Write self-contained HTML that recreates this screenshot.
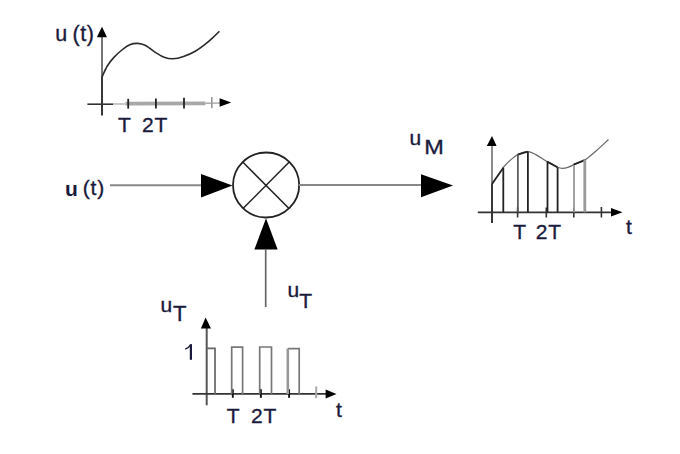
<!DOCTYPE html>
<html><head><meta charset="utf-8">
<style>
html,body{margin:0;padding:0;background:#fff;width:680px;height:454px;overflow:hidden}
svg{position:absolute;left:0;top:0}
text{font-family:"Liberation Sans",sans-serif;fill:#1a1a3c;stroke:#1a1a3c;stroke-width:0.35px}
</style></head><body>
<svg width="680" height="454" viewBox="0 0 680 454">
<!-- top graph -->
<g fill="none">
  <line x1="102" y1="37" x2="102" y2="77" stroke="#666" stroke-width="1.8"/>
  <line x1="102" y1="77" x2="102" y2="115.5" stroke="#222" stroke-width="1.8"/>
  <line x1="87.4" y1="104.2" x2="113" y2="104.2" stroke="#333" stroke-width="1.6"/>
  <line x1="113" y1="104" x2="125.5" y2="104" stroke="#bbb" stroke-width="1.6"/>
  <line x1="125.5" y1="103.7" x2="205.5" y2="103.4" stroke="#a8a8a8" stroke-width="3.8"/>
  <line x1="205.5" y1="103.2" x2="221" y2="103" stroke="#aaa" stroke-width="1.5"/>
  <line x1="128.2" y1="98.8" x2="128.2" y2="108.6" stroke="#222" stroke-width="1.8"/>
  <line x1="155.9" y1="98.5" x2="155.9" y2="108.6" stroke="#222" stroke-width="1.8"/>
  <line x1="184" y1="97.8" x2="184" y2="108.6" stroke="#222" stroke-width="1.8"/>
  <line x1="211.8" y1="97" x2="211.8" y2="108.2" stroke="#999" stroke-width="1.6"/>
  <path d="M102.0,77.0 C102.9,75.2 105.3,69.3 107.3,66.0 C109.3,62.7 111.4,60.1 113.9,57.4 C116.4,54.6 119.9,51.6 122.5,49.5 C125.1,47.4 127.2,45.8 129.7,44.8 C132.2,43.8 135.0,43.3 137.7,43.4 C140.3,43.5 142.7,44.0 145.6,45.5 C148.5,47.0 151.8,50.1 154.9,52.1 C158.0,54.1 161.1,56.1 164.1,57.2 C167.1,58.3 169.7,58.9 172.9,58.8 C176.1,58.7 179.8,57.8 183.5,56.5 C187.2,55.2 191.8,53.2 195.3,51.2 C198.8,49.2 201.8,47.0 204.7,44.7 C207.6,42.4 210.4,39.9 212.9,37.6 C215.4,35.4 218.3,32.3 219.4,31.2" stroke="#2a2a2a" stroke-width="1.6"/>
</g>
<polygon points="102,26.8 96.8,37.2 107,37.2" fill="#000"/>
<polygon points="231.2,102.5 219.6,98.3 219.6,106.7" fill="#000"/>

<!-- middle -->
<line x1="110" y1="185.3" x2="202" y2="185.3" stroke="#888" stroke-width="2"/>
<polygon points="201,174.1 232.5,185.6 201,197.5" fill="#000"/>
<ellipse cx="266.1" cy="185" rx="33.1" ry="32.5" stroke="#222" stroke-width="1.8" fill="none"/>
<line x1="243" y1="162.3" x2="289" y2="208.5" stroke="#222" stroke-width="1.5"/>
<line x1="289" y1="162.3" x2="243" y2="208.5" stroke="#222" stroke-width="1.5"/>
<line x1="299" y1="185" x2="422" y2="185" stroke="#888" stroke-width="2"/>
<polygon points="421,174.3 453,185.6 421,197.3" fill="#000"/>
<polygon points="266,218.3 254.4,249.4 277.6,249.4" fill="#000"/>
<line x1="265.7" y1="249" x2="265.7" y2="307" stroke="#666" stroke-width="1.7"/>

<!-- right graph -->
<g fill="none">
  <line x1="492" y1="145" x2="492" y2="184" stroke="#777" stroke-width="1.7"/>
  <line x1="492" y1="184" x2="492" y2="223" stroke="#222" stroke-width="1.8"/>
  <line x1="477.8" y1="212.3" x2="612" y2="212.3" stroke="#333" stroke-width="1.8"/>
  <line x1="517.6" y1="207.5" x2="517.6" y2="217.5" stroke="#333" stroke-width="1.6"/>
  <line x1="546.3" y1="207.5" x2="546.3" y2="217.5" stroke="#333" stroke-width="1.6"/>
  <line x1="573.8" y1="207.5" x2="573.8" y2="217.5" stroke="#333" stroke-width="1.6"/>
  <line x1="601.4" y1="207" x2="601.4" y2="217.5" stroke="#333" stroke-width="1.6"/>
  <path d="M503.5,167.0 C504.6,165.9 507.6,162.6 510.0,160.5 C512.4,158.4 514.8,156.1 517.7,154.6 C520.7,153.1 524.7,151.6 527.7,151.6 C530.7,151.6 532.5,152.9 535.8,154.6 C539.0,156.3 543.6,159.5 547.2,161.6 C550.8,163.7 554.5,166.0 557.5,167.3 C560.5,168.6 566,169.2 573.7,164.6 C577.4,162.8 581.0,162.2 584.7,160.1 C588.4,157.8 592.0,154.4 596.0,151.0 C600.0,147.6 606.4,141.4 608.5,139.5" stroke="#6a6a6a" stroke-width="1.25"/>
  <g stroke="#222" stroke-width="1.8">
    <line x1="492" y1="184" x2="503.5" y2="167.5"/>
    <line x1="517.7" y1="154.6" x2="527.7" y2="151.6"/>
    <line x1="547.2" y1="161.6" x2="557.5" y2="167.3"/>
    <line x1="573.7" y1="164.6" x2="584.7" y2="160.1"/>
    <line x1="503.3" y1="167.5" x2="503.3" y2="212.3"/>
    <line x1="527.9" y1="151.6" x2="527.9" y2="212.3"/>
    <line x1="547.5" y1="161.8" x2="547.5" y2="212.3"/>
    <line x1="557.6" y1="167.4" x2="557.6" y2="212.3"/>
  </g>
  <line x1="517.9" y1="154.6" x2="517.9" y2="212.3" stroke="#555" stroke-width="1.7"/>
  <line x1="574" y1="165" x2="574" y2="212.3" stroke="#999" stroke-width="1.8"/>
  <line x1="584.8" y1="160" x2="584.8" y2="212.3" stroke="#999" stroke-width="2.8"/>
</g>
<polygon points="492,136 486.8,146 496.6,146" fill="#000"/>
<polygon points="622.5,212.3 611,208 611,216.5" fill="#000"/>

<!-- bottom graph -->
<g fill="none" stroke-width="1.7">
  <line x1="206.7" y1="328" x2="206.7" y2="405.3" stroke="#555" stroke-width="2"/>
  <line x1="192.4" y1="393.9" x2="326" y2="393.9" stroke="#333" stroke-width="1.8"/>
  <line x1="232.8" y1="389.2" x2="232.8" y2="397.8" stroke="#111" stroke-width="1.9"/>
  <line x1="260.9" y1="389.2" x2="260.9" y2="397.8" stroke="#111" stroke-width="1.9"/>
  <line x1="289.1" y1="389.2" x2="289.1" y2="397.8" stroke="#111" stroke-width="1.9"/>
  <line x1="316.2" y1="386.5" x2="316.2" y2="398.2" stroke="#aaa" stroke-width="2"/>
  <polyline points="206.7,348.4 215,348.4 215,394" stroke="#666"/>
  <polyline points="231.7,394 231.7,347.2 242.6,347.2 242.6,394" stroke="#777"/>
  <polyline points="259.7,394 259.7,347 271.5,347 271.5,394" stroke="#777"/>
  <polyline points="299.2,394 299.2,348.6 287.8,348.6" stroke="#777"/><line x1="287.8" y1="348.6" x2="287.8" y2="394" stroke="#999" stroke-width="2.6"/>
</g>
<polygon points="205.6,317.6 200.9,328.6 211,328.6" fill="#000"/>
<polygon points="336.5,394 325.6,389.5 325.6,398.5" fill="#000"/>

<!-- text -->
<text x="55.2" y="40.6" font-size="21.5">u</text>
<text x="72.5" y="40.6" font-size="21.5" letter-spacing="0.6">(t)</text>
<text x="118.1" y="132.4" font-size="21">T</text>
<text x="141.9" y="132.4" font-size="21" letter-spacing="1">2T</text>
<text x="65.1" y="195.5" font-size="21" font-weight="bold" style="stroke-width:0">u</text>
<text x="82.7" y="195.2" font-size="21" letter-spacing="0.85">(t)</text>
<text x="287.4" y="296.5" font-size="21">u</text>
<text x="299.3" y="308" font-size="21">T</text>
<text x="409.5" y="145.3" font-size="21">u</text>
<text x="0" y="0" font-size="21" transform="translate(424.3,153.8) scale(1.12,1)">M</text>
<text x="513.2" y="239.2" font-size="21">T</text>
<text x="535.7" y="239.2" font-size="21" letter-spacing="1">2T</text>
<text x="625.9" y="233.6" font-size="21">t</text>
<text x="160.4" y="312.4" font-size="21">u</text>
<text x="172.9" y="321.3" font-size="22">T</text>
<path d="M190.9,344.2 V359.8" stroke="#1a1a3c" stroke-width="2.2" fill="none"/><path d="M185.2,349.2 Q188.8,347.8 190.9,344.6" stroke="#1a1a3c" stroke-width="1.4" fill="none"/>
<text x="226.8" y="422.7" font-size="21">T</text>
<text x="250.9" y="422.7" font-size="21" letter-spacing="1">2T</text>
<text x="335.9" y="416.9" font-size="21">t</text>
</svg>
</body></html>
